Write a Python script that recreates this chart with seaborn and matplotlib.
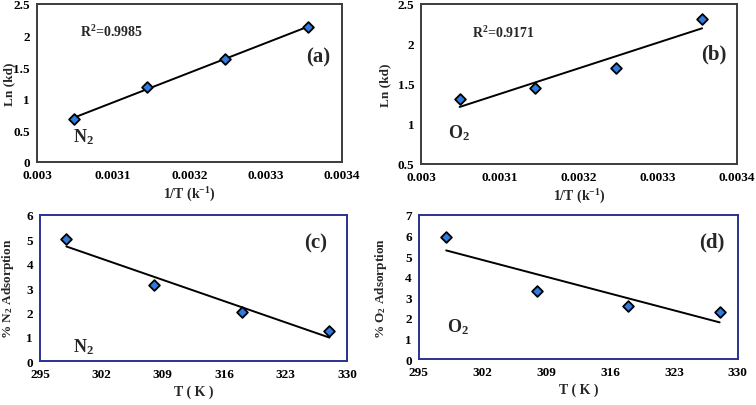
import numpy as np
import pandas as pd
import seaborn as sns
import matplotlib.pyplot as plt

# data
temps = [298, 308, 318, 328]
inv_t = [1 / t for t in temps]
lnkd_n2 = [2.13, 1.63, 1.18, 0.68]
lnkd_o2 = [2.31, 1.70, 1.45, 1.31]
ads_n2 = [5.0, 3.13, 2.0, 1.22]
ads_o2 = [5.92, 3.33, 2.6, 2.28]

inv_ticks = [0.003, 0.0031, 0.0032, 0.0033, 0.0034]
inv_labels = ["0.003", "0.0031", "0.0032", "0.0033", "0.0034"]
t_ticks = [295, 302, 309, 316, 323, 330]


def main():
    sns.set_theme(style="white")
    plt.rcParams["font.family"] = ["Liberation Serif", "DejaVu Serif"]
    plt.rcParams["font.weight"] = "bold"
    plt.rcParams["mathtext.fontset"] = "custom"
    plt.rcParams["mathtext.rm"] = "Liberation Serif:bold"
    plt.rcParams["mathtext.it"] = "Liberation Serif:bold"
    plt.rcParams["mathtext.bf"] = "Liberation Serif:bold"
    plt.rcParams["mathtext.default"] = "rm"

    fig = plt.figure(figsize=(7.56, 4.06), dpi=100)
    ax_a = fig.add_axes([0.049, 0.599, 0.403, 0.389])
    ax_b = fig.add_axes([0.557, 0.594, 0.418, 0.394])
    ax_c = fig.add_axes([0.053, 0.108, 0.406, 0.360])
    ax_d = fig.add_axes([0.554, 0.113, 0.422, 0.355])

    df = pd.DataFrame({"invT": inv_t, "T": temps, "ln_n2": lnkd_n2,
                       "ln_o2": lnkd_o2, "ad_n2": ads_n2, "ad_o2": ads_o2})

    sk = dict(s=30, color="#2f7be0", edgecolors="black", linewidths=1.3,
              alpha=1, zorder=3)
    lk = dict(color="black", lw=1.4, zorder=2)

    panels = [
        (ax_a, "invT", "ln_n2", "#3c3c3c", -0.072),
        (ax_b, "invT", "ln_o2", "#3c3c3c", -0.095),
        (ax_c, "T", "ad_n2", "#2a3290", -0.078),
        (ax_d, "T", "ad_o2", "#2a3290", -0.095),
    ]
    for ax, xc, yc, edge, ylx in panels:
        sns.regplot(data=df, x=xc, y=yc, ax=ax, ci=None, marker="D",
                    truncate=True, scatter_kws=sk, line_kws=lk)
        for sp in ax.spines.values():
            sp.set_color(edge)
            sp.set_linewidth(1.4)
        ax.tick_params(direction="out", length=3, width=1, labelsize=9.5,
                       pad=2, labelcolor="black", color="#888888")
        ax.yaxis.set_label_coords(ylx, 0.5)

    for ax, ylim, yt in [(ax_a, (0, 2.5), [0, 0.5, 1, 1.5, 2, 2.5]),
                         (ax_b, (0.5, 2.5), [0.5, 1, 1.5, 2, 2.5])]:
        ax.set_xlim(0.003, 0.0034)
        ax.set_xticks(inv_ticks, inv_labels, fontweight="bold")
        ax.set_ylim(*ylim)
        ax.set_yticks(yt, [f"{v:g}" for v in yt], fontweight="bold")
        ax.set_xlabel("1/T (k$^{-1}$)", fontsize=10, fontweight="bold",
                      labelpad=3)
        ax.set_ylabel("Ln (kd)", fontsize=9.5, fontweight="bold")

    for ax, ylim in [(ax_c, (0, 6)), (ax_d, (0, 7))]:
        ax.set_xlim(295, 330)
        ax.set_xticks(t_ticks, [str(t) for t in t_ticks], fontweight="bold")
        ax.set_ylim(*ylim)
        yt = list(range(ylim[0], ylim[1] + 1))
        ax.set_yticks(yt, [str(v) for v in yt], fontweight="bold")
        ax.set_xlabel("T ( K )", fontsize=10, fontweight="bold", labelpad=3)

    ax_c.set_ylabel("% N$_2$ Adsorption", fontsize=9.5, fontweight="bold")
    ax_d.set_ylabel("% O$_2$ Adsorption", fontsize=9.5, fontweight="bold")

    tk = dict(fontweight="bold")
    ax_a.text(0.003056, 2.07, "R$^2$=0.9985", fontsize=10,
              va="center", **tk)
    ax_a.text(0.003369, 1.66, "(a)", fontsize=15, ha="center",
              va="center", **tk)
    ax_a.text(0.003047, 0.41, "N$_2$", fontsize=13, va="center", **tk)

    ax_b.text(0.003065, 2.15, "R$^2$=0.9171", fontsize=10,
              va="center", **tk)
    ax_b.text(0.00337, 1.875, "(b)", fontsize=15, ha="center",
              va="center", **tk)
    ax_b.text(0.003034, 0.9, "O$_2$", fontsize=13, va="center", **tk)

    ax_c.text(326.4, 4.89, "(c)", fontsize=15, ha="center", va="center",
              **tk)
    ax_c.text(298.8, 0.62, "N$_2$", fontsize=13, va="center", **tk)
    ax_d.text(327.1, 5.69, "(d)", fontsize=15, ha="center", va="center",
              **tk)
    ax_d.text(298.1, 1.6, "O$_2$", fontsize=13, va="center", **tk)

    fig.savefig("out.png", dpi=100)


if __name__ == "__main__":
    main()
